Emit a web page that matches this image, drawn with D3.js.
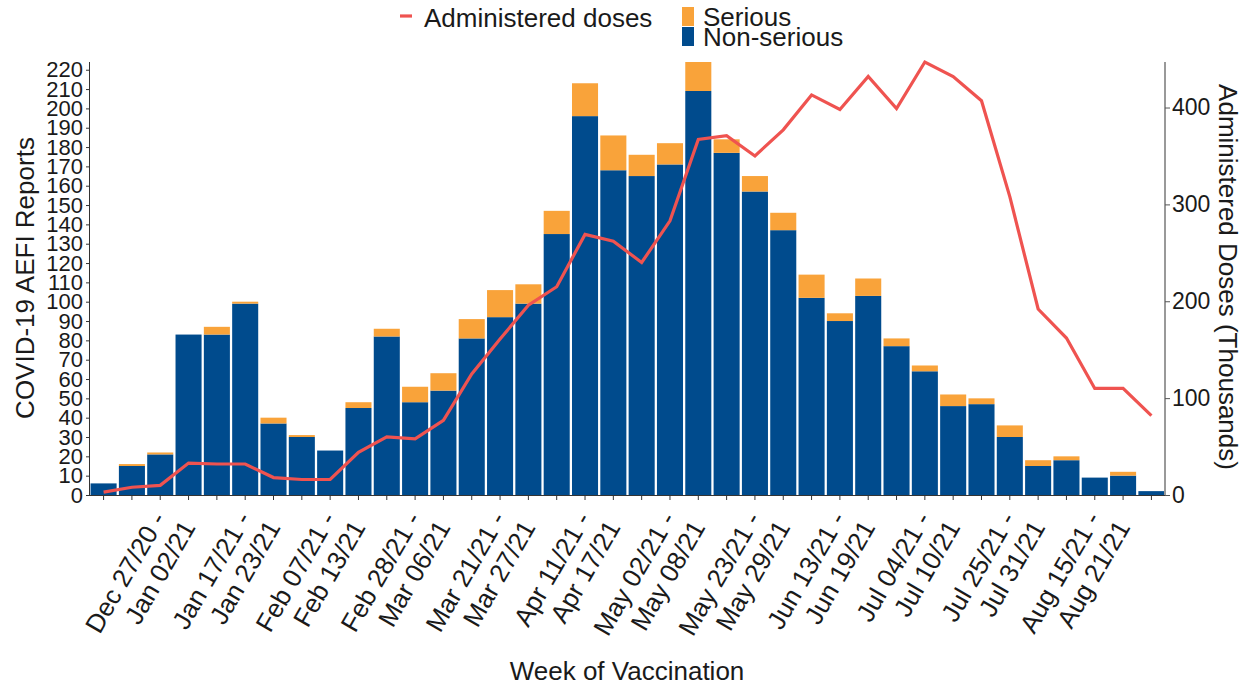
<!DOCTYPE html>
<html>
<head>
<meta charset="utf-8">
<script src="https://cdn.jsdelivr.net/npm/d3@7"></script>
<style>
  body { margin: 0; background: #fff; }
  svg text { font-family: "Liberation Sans", Arial, sans-serif; fill: #1a1a1a; }
</style>
</head>
<body>
<script>
// week start / end labels
let weekStart = ["Dec 13/20","Dec 20/20","Dec 27/20","Jan 03/21","Jan 10/21","Jan 17/21","Jan 24/21","Jan 31/21",
  "Feb 07/21","Feb 14/21","Feb 21/21","Feb 28/21","Mar 07/21","Mar 14/21","Mar 21/21","Mar 28/21",
  "Apr 04/21","Apr 11/21","Apr 18/21","Apr 25/21","May 02/21","May 09/21","May 16/21","May 23/21",
  "May 30/21","Jun 06/21","Jun 13/21","Jun 20/21","Jun 27/21","Jul 04/21","Jul 11/21","Jul 18/21",
  "Jul 25/21","Aug 01/21","Aug 08/21","Aug 15/21","Aug 22/21","Aug 29/21"]
let weekEnd = ["Dec 19/20","Dec 26/20","Jan 02/21","Jan 09/21","Jan 16/21","Jan 23/21","Jan 30/21","Feb 06/21",
  "Feb 13/21","Feb 20/21","Feb 27/21","Mar 06/21","Mar 13/21","Mar 20/21","Mar 27/21","Apr 03/21",
  "Apr 10/21","Apr 17/21","Apr 24/21","May 01/21","May 08/21","May 15/21","May 22/21","May 29/21",
  "Jun 05/21","Jun 12/21","Jun 19/21","Jun 26/21","Jul 03/21","Jul 10/21","Jul 17/21","Jul 24/21",
  "Jul 31/21","Aug 07/21","Aug 14/21","Aug 21/21","Aug 28/21","Sep 04/21"]

let nonSerious = [6,15,21,83,83,99,37,30,23,45,82,48,54,81,92,99,135,196,168,165,171,209,177,157,137,102,90,103,77,64,46,47,30,15,18,9,10,2]
let serious    = [0,1,1,0,4,1,3,1,0,3,4,8,9,10,14,10,12,17,18,11,11,15,7,8,9,12,4,9,4,3,6,3,6,3,2,0,2,0]

// administered doses, thousands
let doses = [3,8,10,33,32,32,18,16,16,44,60,58,77,125,161,196,215,269,262,240,283,367,371,350,377,413,398,432,399,447,432,407,308,192,162,110,110,82]

let labelIdx = [2,5,8,11,14,17,20,23,26,29,32,35]
let leftTicks = [0,10,20,30,40,50,60,70,80,90,100,110,120,130,140,150,160,170,180,190,200,210,220]
let rightTicks = [0,100,200,300,400]

let w = 1246
let h = 686
let padL = 90, padR = 1165, padT = 62, padB = 495

let data = weekStart.map((d,i)=>({week: d, ns: nonSerious[i], s: serious[i], doses: doses[i]}))

let svg = d3.select("body").append("svg").attr("width", w).attr("height", h)

let xScale = d3.scaleBand().domain(weekStart).range([padL, padR]).paddingInner(0.08).paddingOuter(0.02)
let yLeft = d3.scaleLinear().domain([0, 224]).range([padB, padT])
let yRight = d3.scaleLinear().domain([0, 447]).range([padB, padT])

let stack = d3.stack().keys(["ns","s"])(data)
let colors = {ns: "#004b8d", s: "#f9a33a"}

svg.append("g").selectAll("g")
  .data(stack).enter().append("g")
  .attr("fill", d=>colors[d.key])
  .selectAll("rect").data(d=>d).enter().append("rect")
  .attr("x", d=>xScale(d.data.week))
  .attr("width", xScale.bandwidth())
  .attr("y", d=>yLeft(d[1]))
  .attr("height", d=>yLeft(d[0]) - yLeft(d[1]))

let line = d3.line()
  .x(d=>xScale(d.week) + xScale.bandwidth()/2)
  .y(d=>yRight(d.doses))

svg.append("path")
  .datum(data)
  .attr("d", line)
  .attr("fill", "none")
  .attr("stroke", "#ef5350")
  .attr("stroke-width", 3.2)

// left axis
let yAxisL = d3.axisLeft(yLeft).tickValues(leftTicks).tickSize(4).tickPadding(3)
let gL = svg.append("g").attr("transform", "translate(" + padL + ",0)").call(yAxisL)
gL.select(".domain").attr("stroke", "#333").attr("d", "M-0.5," + padT + "V" + padB)
gL.selectAll(".tick line").attr("stroke", "#333")
gL.selectAll(".tick text").attr("font-size", 22).attr("fill", "#1a1a1a").attr("font-family", null)

// right axis
let yAxisR = d3.axisRight(yRight).tickValues(rightTicks).tickSize(5).tickPadding(2)
let gR = svg.append("g").attr("transform", "translate(" + padR + ",0)").call(yAxisR)
gR.select(".domain").attr("stroke", "#999").attr("stroke-width", 2).attr("d", "M0," + padT + "V" + padB)
gR.selectAll(".tick line").attr("stroke", "#555")
gR.selectAll(".tick text").attr("font-size", 23).attr("fill", "#1a1a1a").attr("font-family", null)

// bottom axis
let xAxis = d3.axisBottom(xScale).tickSize(5).tickFormat("")
let gB = svg.append("g").attr("transform", "translate(0," + padB + ")").call(xAxis)
gB.select(".domain").attr("stroke", "#333").attr("d", "M" + padL + ",0.5H" + padR)
gB.selectAll(".tick line").attr("stroke", "#333")

let xl = svg.append("g").selectAll("text")
  .data(labelIdx).enter().append("text")
  .attr("font-size", 26)
  .attr("text-anchor", "end")
  .attr("transform", i=>"translate(" + (xScale(weekStart[i]) + xScale.bandwidth()/2 - 6) + "," + (padB + 8) + ") rotate(-60)")
xl.append("tspan").attr("x", 0).attr("dy", "0.72em").text(i=>weekStart[i] + " -\u00A0")
xl.append("tspan").attr("x", 0).attr("dy", "1.15em").text(i=>weekEnd[i])

// axis titles
svg.append("text").text("COVID-19 AEFI Reports")
  .attr("font-size", 26).attr("text-anchor", "middle")
  .attr("transform", "translate(34,278) rotate(-90)")

svg.append("text").text("Administered Doses (Thousands)")
  .attr("font-size", 26).attr("text-anchor", "middle")
  .attr("transform", "translate(1219,277) rotate(90)")

svg.append("text").text("Week of Vaccination")
  .attr("font-size", 26).attr("text-anchor", "middle")
  .attr("x", 627).attr("y", 680)

// legend
let legend = svg.append("g")
legend.append("line").attr("x1", 400).attr("x2", 412).attr("y1", 16).attr("y2", 16)
  .attr("stroke", "#ef5350").attr("stroke-width", 3.2)
legend.append("text").text("Administered doses").attr("font-size", 26).attr("x", 424).attr("y", 27)
legend.append("rect").attr("x", 682).attr("y", 7).attr("width", 12).attr("height", 19).attr("fill", colors.s)
legend.append("rect").attr("x", 682).attr("y", 27).attr("width", 12).attr("height", 19).attr("fill", colors.ns)
legend.append("text").text("Serious").attr("font-size", 26).attr("x", 703).attr("y", 26)
legend.append("text").text("Non-serious").attr("font-size", 26).attr("x", 703).attr("y", 46)
</script>
</body>
</html>
